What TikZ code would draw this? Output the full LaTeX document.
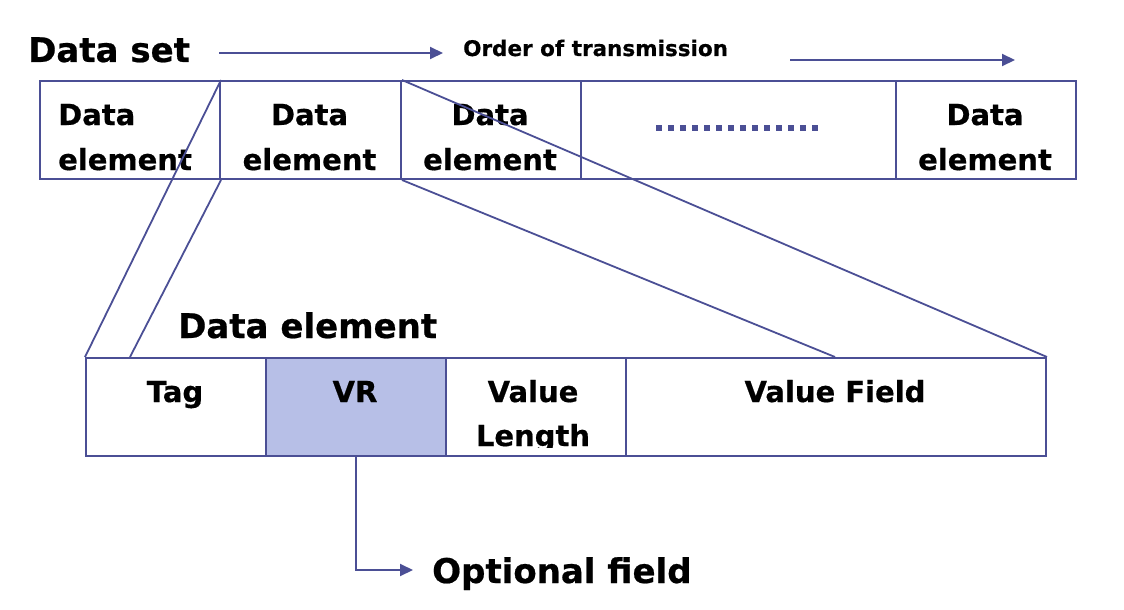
\documentclass[tikz,border=0pt]{standalone}
\usepackage{fontspec}
\setmainfont{DejaVu Sans}
\newfontfamily\heavy{DejaVu Sans Bold}[FakeBold=0.6]
\usetikzlibrary{arrows.meta}
\definecolor{ln}{HTML}{4B4F95}
\definecolor{vrfill}{HTML}{B7BFE7}
\tikzset{
  x=1pt, y=-1pt,
  cell/.style={draw=ln, line width=2pt, rectangle, inner sep=0pt, anchor=north west},
  fan/.style={draw=ln, line width=1.8pt},
  arr/.style={draw=ln, line width=2pt, -{Triangle[length=13pt,width=12pt]}},
  celltxt/.style={font=\heavy\fontsize{29}{34}\selectfont, inner sep=0pt, anchor=base},
  bigtxt/.style={font=\heavy\fontsize{34}{40}\selectfont, inner sep=0pt, anchor=base west},
  smalltxt/.style={font=\heavy\fontsize{21.5}{26}\selectfont, inner sep=0pt, anchor=base west},
}
\begin{document}
\begin{tikzpicture}
\useasboundingbox (0,0) rectangle (1124,610);
% title row
\node[bigtxt] (ds) at (28,62) {Data set};
\node[smalltxt] (ord) at (463,56) {Order of transmission};
\coordinate (a1s) at (219,53);
\coordinate (a1e) at (443,53);
\coordinate (a2s) at (790,60);
\coordinate (a2e) at (1015,60);
\draw[arr] (a1s) -- (a1e);
\draw[arr] (a2s) -- (a2e);
% top row
\node[cell, minimum width=180pt, minimum height=98pt] (t1) at (39,80) {};
\node[cell, minimum width=181pt, minimum height=98pt] (t2) at (219,80) {};
\node[cell, minimum width=180pt, minimum height=98pt] (t3) at (400,80) {};
\node[cell, minimum width=315pt, minimum height=98pt] (t4) at (580,80) {};
\node[cell, minimum width=180pt, minimum height=98pt] (t5) at (895,80) {};
\node[celltxt, anchor=base west] (t1a) at (58,125) {Data};
\node[celltxt, anchor=base west] (t1b) at (58,170) {element};
\node[celltxt] (t2a) at (309.5,125) {Data};
\node[celltxt] (t2b) at (309.5,170) {element};
\node[celltxt] (t3a) at (490,125) {Data};
\node[celltxt] (t3b) at (490,170) {element};
\node[celltxt] (t5a) at (985,125) {Data};
\node[celltxt] (t5b) at (985,170) {element};
\coordinate (dotS) at (656,128);
\coordinate (dotE) at (822,128);
\draw[ln, line width=5.5pt, dash pattern=on 5.5pt off 6.5pt] (dotS) -- (dotE);
% bottom row
\node[bigtxt] (de) at (178,338) {Data element};
\node[cell, minimum width=180pt, minimum height=98pt] (b1) at (85,357) {};
\node[cell, minimum width=180pt, minimum height=98pt, fill=vrfill] (b2) at (265,357) {};
\node[cell, minimum width=180pt, minimum height=98pt] (b3) at (445,357) {};
\node[cell, minimum width=420pt, minimum height=98pt] (b4) at (625,357) {};
\node[celltxt] (tag) at (175,402) {Tag};
\node[celltxt] (vr) at (355,402) {VR};
\node[celltxt] (val) at (533,402) {Value};
\begin{scope}
\clip (445,420) rectangle (625,447);
\node[celltxt] (len) at (533,446) {Length};
\end{scope}
\node[celltxt] (vf) at (835,402) {Value Field};
% fan lines
\coordinate (f1) at (130,357);
\coordinate (f2) at (835,357);
\draw[fan] (t1.north east) -- (b1.north west);
\draw[fan] (t1.south east) -- (f1);
\draw[fan] (t2.north east) -- (b4.north east);
\draw[fan] (t2.south east) -- (f2);
% optional field
\node[bigtxt] (opt) at (432,583) {Optional field};
\coordinate (oa) at (413,570);
\draw[arr] (b2.south) |- (oa);
\end{tikzpicture}
\end{document}
